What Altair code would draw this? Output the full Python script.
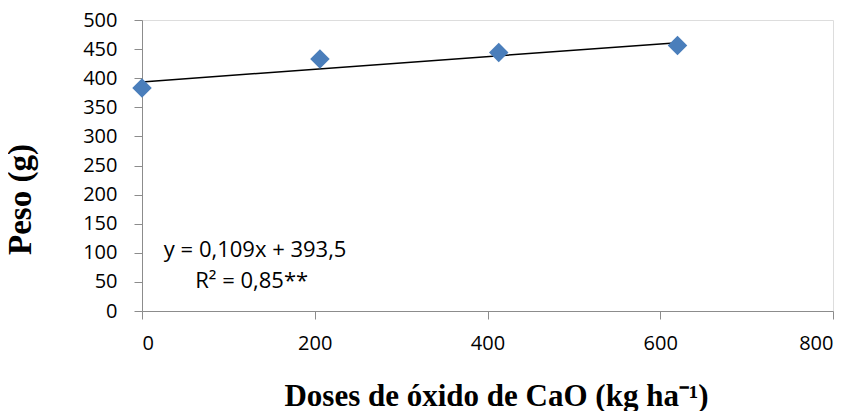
import altair as alt
import pandas as pd

doses = [0, 206, 413, 620]
peso = [383, 433, 444, 456]
line_x = [0, 620]
line_y = [393.5, 461.08]
ann_x = [131, 127]
ann_y = [105, 51]
ann_text = ["y = 0,109x + 393,5", "R² = 0,85**"]

pts = pd.DataFrame({"x": doses, "y": peso})
ln = pd.DataFrame({"x": line_x, "y": line_y})
ann = pd.DataFrame({"x": ann_x, "y": ann_y, "t": ann_text})

xs = alt.Scale(domain=[0, 800], nice=False, zero=False)
ys = alt.Scale(domain=[0, 500], nice=False)

xaxis = alt.Axis(values=[0, 200, 400, 600, 800], title="Doses de óxido de CaO (kg ha⁻¹)",
                 grid=False, domainColor="#8c8c8c", tickColor="#8c8c8c", tickSize=8,
                 labelFont="Open Sans", labelFontSize=20, labelColor="black", labelPadding=14,
                 labelOverlap=False,
                 titleFont="Liberation Serif", titleFontSize=31, titleFontWeight="bold",
                 titleColor="black", titleBaseline="alphabetic", titleX=354, titleY=94)
yaxis = alt.Axis(values=[0, 50, 100, 150, 200, 250, 300, 350, 400, 450, 500], title="Peso (g)",
                 grid=False, domainColor="#8c8c8c", tickColor="#8c8c8c", tickSize=8,
                 labelFont="Open Sans", labelFontSize=20, labelColor="black", labelPadding=17,
                 labelOverlap=False, tickCount=11,
                 titleFont="Liberation Serif", titleFontSize=33, titleFontWeight="bold",
                 titleColor="black", titleX=-105, titleY=179)

X = alt.X("x:Q", scale=xs, axis=xaxis)
Y = alt.Y("y:Q", scale=ys, axis=yaxis)

points = alt.Chart(pts).mark_point(shape="diamond", filled=True, size=380, color="#4a7ebb", opacity=1).encode(
    x=X, y=Y,
)
line = alt.Chart(ln).mark_line(color="black", strokeWidth=1.5).encode(
    x=X, y=Y,
)
text = alt.Chart(ann).mark_text(font="Open Sans", fontSize=22, color="black", align="center").encode(
    x=X, y=Y,
    text="t:N",
)

chart = alt.layer(line, points, text).properties(
    width=691, height=291,
    autosize=alt.AutoSizeParams(type="none"),
    padding={"left": 134, "top": 12, "right": 10, "bottom": 100},
).configure_view(stroke=None).configure(background="white")

chart.save("out.html", embed_options={"renderer": "svg", "actions": False})
